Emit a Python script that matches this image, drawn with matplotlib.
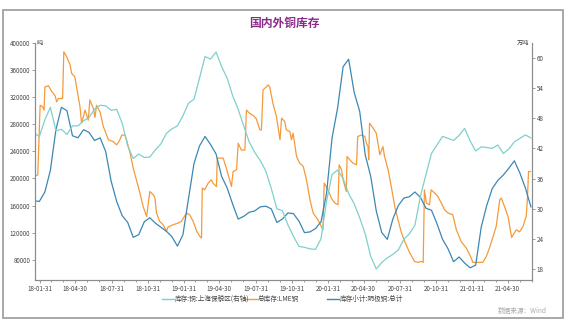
import matplotlib

matplotlib.use("Agg")
import matplotlib.dates as mdates
import matplotlib.pyplot as plt
import pandas as pd
from matplotlib.lines import Line2D
from matplotlib.patches import Rectangle

plt.rcParams["font.family"] = ["Noto Sans CJK SC", "DejaVu Sans"]

# SHFE cathode copper and Shanghai bonded-zone stocks, sampled every 14 days
grid_start = "2018-01-15"
grid_points = 91
shfe_stock = [
    167000, 166000, 180000, 212000, 272000, 305000, 300000, 263000, 260000, 272000,
    268000, 256000, 260000, 240000, 196000, 166000, 145000, 135000, 113000, 117000,
    136000, 142000, 134000, 128000, 122000, 114000, 100000, 117000, 170000, 222000,
    248000, 262000, 250000, 236000, 203000, 186000, 162000, 140000, 144000, 150000,
    152000, 158000, 159000, 155000, 135000, 140000, 149000, 148000, 137000, 120000,
    121000, 126000, 136000, 178000, 260000, 304000, 365000, 376000, 327000, 299000,
    235000, 203000, 152000, 120000, 110000, 140000, 160000, 171000, 173000, 180000,
    172000, 156000, 153000, 133000, 110000, 96000, 77000, 84000, 75000, 68000,
    72000, 128000, 160000, 185000, 197000, 205000, 215000, 226000, 208000, 186000,
    158000,
]
bonded_stock = [
    45.1, 44.4, 47.7, 50.2, 45.5, 45.8, 44.8, 46.5, 46.5, 47.5,
    48.2, 49.8, 50.6, 50.5, 49.6, 49.8, 47.0, 42.5, 40.0, 40.9,
    40.2, 40.3, 41.7, 42.9, 45.0, 45.9, 46.5, 48.5, 51.0, 51.8,
    56.0, 60.3, 59.8, 61.2, 58.3, 56.0, 52.5, 49.8, 46.5, 43.3,
    41.2, 39.6, 37.5, 34.0, 30.0, 29.6, 26.8, 24.5, 22.5, 22.3,
    22.0, 21.9, 24.0, 31.5, 36.8, 37.7, 36.0, 33.0, 31.0, 28.2,
    25.0, 20.5, 18.0, 19.3, 20.2, 20.9, 21.8, 23.9, 25.0, 26.7,
    32.5, 36.8, 41.0, 42.7, 44.4, 44.0, 43.6, 44.6, 46.0, 43.5,
    41.5, 42.3, 42.2, 42.0, 42.7, 41.0, 41.9, 43.3, 44.0, 44.7,
    44.1,
]

# LME total stock (steps kept as separate dates)
lme_dates = [
    "2018-01-14", "2018-01-25", "2018-01-31", "2018-02-06", "2018-02-10", "2018-02-12",
    "2018-02-21", "2018-03-02", "2018-03-10", "2018-03-14", "2018-03-18", "2018-03-29",
    "2018-04-01", "2018-04-08", "2018-04-17", "2018-04-21", "2018-04-29", "2018-05-04",
    "2018-05-12", "2018-05-16", "2018-05-20", "2018-05-25", "2018-06-02", "2018-06-06",
    "2018-06-15", "2018-06-19", "2018-06-23", "2018-07-02", "2018-07-10", "2018-07-23",
    "2018-08-04", "2018-08-13", "2018-08-21", "2018-08-26", "2018-09-03", "2018-09-07",
    "2018-09-16", "2018-09-24", "2018-10-02", "2018-10-11", "2018-10-19", "2018-10-28",
    "2018-11-05", "2018-11-14", "2018-11-18", "2018-11-22", "2018-11-30", "2018-12-09",
    "2018-12-17", "2018-12-21", "2019-01-03", "2019-01-16", "2019-01-24", "2019-02-06",
    "2019-02-14", "2019-02-23", "2019-03-04", "2019-03-12", "2019-03-16", "2019-03-18",
    "2019-03-24", "2019-04-02", "2019-04-10", "2019-04-14", "2019-04-23", "2019-04-25",
    "2019-05-10", "2019-05-18", "2019-05-31", "2019-06-04", "2019-06-13", "2019-06-17",
    "2019-06-25", "2019-07-04", "2019-07-08", "2019-07-16", "2019-07-25", "2019-08-02",
    "2019-08-11", "2019-08-15", "2019-08-19", "2019-08-28", "2019-09-01", "2019-09-05",
    "2019-09-13", "2019-09-22", "2019-10-01", "2019-10-05", "2019-10-13", "2019-10-17",
    "2019-10-26", "2019-10-30", "2019-11-03", "2019-11-07", "2019-11-12", "2019-11-20",
    "2019-11-29", "2019-12-07", "2019-12-16", "2019-12-24", "2020-01-05", "2020-01-18",
    "2020-01-21", "2020-01-31", "2020-02-08", "2020-02-17", "2020-02-25", "2020-02-28",
    "2020-03-05", "2020-03-09", "2020-03-17", "2020-03-19", "2020-03-26", "2020-04-03",
    "2020-04-12", "2020-04-15", "2020-04-24", "2020-05-03", "2020-05-07", "2020-05-11",
    "2020-05-13", "2020-05-15", "2020-05-24", "2020-06-01", "2020-06-10", "2020-06-18",
    "2020-06-22", "2020-07-01", "2020-07-09", "2020-07-18", "2020-07-26", "2020-08-04",
    "2020-08-12", "2020-08-25", "2020-09-06", "2020-09-15", "2020-09-23", "2020-09-28",
    "2020-10-01", "2020-10-06", "2020-10-14", "2020-10-18", "2020-10-27", "2020-11-04",
    "2020-11-13", "2020-11-21", "2020-11-30", "2020-12-12", "2020-12-21", "2021-01-02",
    "2021-01-15", "2021-01-24", "2021-02-01", "2021-02-26", "2021-03-07", "2021-03-15",
    "2021-03-24", "2021-04-01", "2021-04-10", "2021-04-14", "2021-04-22", "2021-05-01",
    "2021-05-10", "2021-05-22", "2021-05-30", "2021-06-08", "2021-06-16", "2021-06-19",
    "2021-06-22", "2021-06-27",
]
lme_stock = [
    203000, 205000, 308000, 306000, 301000, 335000,
    337000, 328000, 322000, 313000, 318000, 318000,
    387000, 380000, 367600, 355000, 350000, 333000,
    306000, 282000, 290000, 301000, 286000, 316000,
    303000, 290000, 308000, 298000, 277000, 257000,
    254500, 249600, 257000, 264000, 264000, 257000,
    237400, 215200, 198000, 178300, 158600, 143900,
    180700, 175800, 171000, 148900, 136500, 131600,
    121800, 128000, 131600, 134100, 136500, 148900,
    146400, 136500, 121800, 114400, 112000, 185700,
    183200, 193100, 198000, 193100, 188100, 230000,
    230000, 215000, 188100, 210000, 213000, 252000,
    242000, 242000, 301000, 296000, 293000, 288000,
    271700, 271700, 330700, 335600, 338100, 335000,
    311000, 291300, 257000, 289000, 284000, 271700,
    269200, 257000, 266800, 252000, 232400, 222600,
    217600, 198000, 168500, 148900, 139000, 124200,
    193100, 183200, 171000, 163600, 161100, 220100,
    212700, 198000, 180700, 232400, 227500, 222600,
    220100, 261900, 264000, 261900, 252000, 247100,
    227500, 281600, 274200, 266800, 235000, 247100,
    232400, 212700, 188100, 158600, 139000, 119400,
    107000, 89900, 77500, 76000, 77500, 76000,
    183200, 163600, 161100, 183200, 178300, 173400,
    163600, 153700, 148900, 146400, 124200, 107000,
    97300, 87400, 76000, 76000, 84900, 97300,
    114400, 129100, 168500, 171000, 158600, 143900,
    113000, 124200, 121000, 129100, 143900, 168500,
    210200, 210200,
]

series_names = ["库存:铜:上海保税区(右轴)", "总库存:LME铜", "库存小计:阴极铜:总计"]
colors = ["#7FD0CC", "#F59A3A", "#3B88B4"]

W, H = 568, 323
fig = plt.figure(figsize=(W / 100, H / 100), dpi=100)
ax = fig.add_axes([35 / W, 1 - 280 / H, (531.7 - 35) / W, 237 / H])
ax2 = ax.twinx()

grid_dates = pd.date_range(grid_start, periods=grid_points, freq="14D")
lme_x = pd.to_datetime(lme_dates)

ax2.plot(grid_dates, bonded_stock, color=colors[0], lw=0.9)
ax.plot(lme_x, lme_stock, color=colors[1], lw=0.9)
ax.plot(grid_dates, shfe_stock, color=colors[2], lw=0.9)

ax.set_xlim(pd.Timestamp("2018-01-18"), pd.Timestamp("2021-06-29"))
ax.set_ylim(50000, 400000)
ax2.set_ylim(15.8, 63)

major = pd.date_range("2018-01-31", "2021-04-30", freq="3ME")
minor = pd.date_range("2018-01-31", "2021-06-30", freq="ME")
ax.set_xticks(major)
ax.set_xticks(minor, minor=True)
ax.xaxis.set_major_formatter(mdates.DateFormatter("%y-%m-%d"))
ax.set_yticks(range(80000, 400001, 40000))
ax2.set_yticks(range(18, 61, 6))

spine_c = "#8c8c8c"
for a in (ax, ax2):
    for s in a.spines.values():
        s.set_color(spine_c)
        s.set_linewidth(0.8)
    a.spines["top"].set_visible(False)
    a.tick_params(which="both", length=2, width=0.6, color=spine_c,
                  labelsize=4.5, labelcolor="#444444", pad=1.5)
ax.tick_params(axis="x", which="minor", length=1.5)

ax.text(0.004, 1.0, "吨", transform=ax.transAxes, fontsize=4.5,
        color="#444444", ha="left", va="center")
ax2.text(0.996, 1.0, "万吨", transform=ax2.transAxes, fontsize=4.5,
         color="#444444", ha="right", va="center")

fig.text(284 / W, 1 - 23 / H, "国内外铜库存", ha="center", va="center",
         color="#8B2A8B", fontsize=8.5, fontweight="bold")

# legend, three fixed-width slots
legend_y = 1 - 299 / H
for i, (name, c) in enumerate(zip(series_names, colors)):
    x0 = (162 + 82.5 * i) / W
    fig.add_artist(Line2D([x0, x0 + 12 / W], [legend_y, legend_y], color=c,
                          lw=1.0, transform=fig.transFigure))
    fig.text(x0 + 13 / W, legend_y, name, fontsize=4.8, color="#444444",
             ha="left", va="center")

fig.text(547 / W, 1 - 311 / H, "数据来源：Wind", fontsize=4.8, color="#aaaaaa",
         ha="right", va="center")

fig.add_artist(Rectangle((3 / W, 1 - 318 / H), 560 / W, 308 / H,
                         transform=fig.transFigure, fill=False,
                         ec="#9a9a9a", lw=1.2))

fig.savefig("out.png", dpi=100)
